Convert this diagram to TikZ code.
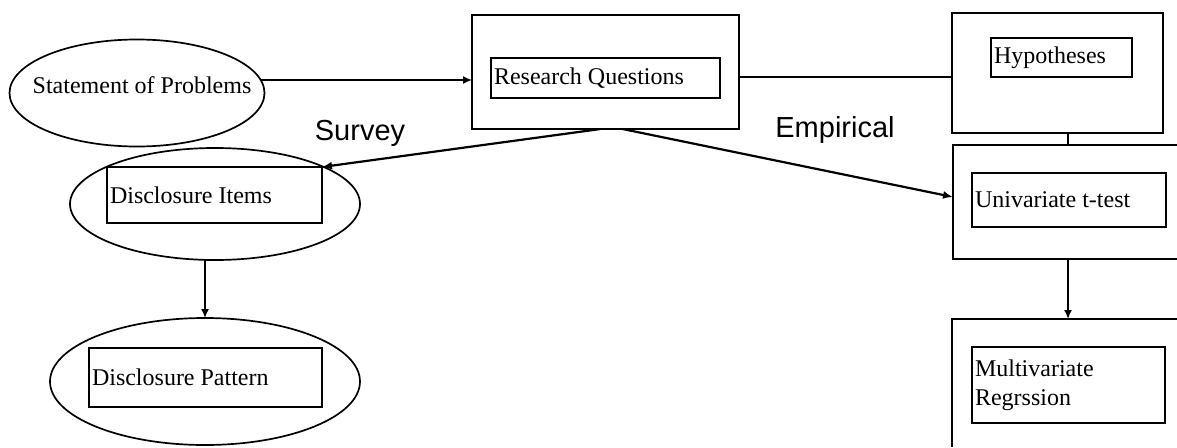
\documentclass[tikz,border=0pt]{standalone}
\usepackage{fontspec}
\setmainfont{Liberation Serif}
\newfontfamily\lsans{Liberation Sans}
\usetikzlibrary{shapes.geometric,arrows.meta}
\begin{document}
\begin{tikzpicture}[x=1pt,y=-1pt,
  every node/.style={inner sep=0pt,outer sep=0pt},
  txt/.style={font=\fontsize{24}{29}\selectfont},
  lbl/.style={font=\lsans\fontsize{29}{33}\selectfont},
  oval/.style={draw,ellipse,line width=1.7pt},
  obox/.style={draw,rectangle,line width=1.8pt},
  ibox/.style={draw,rectangle,line width=1.6pt,inner xsep=3pt,align=flush left,txt},
  conn/.style={line width=1.6pt},
  arr/.style={line width=1.6pt,-{Latex[length=9pt,width=8pt]}},
  darr/.style={line width=2.2pt,-{Latex[length=10pt,width=8pt]}}
]
\useasboundingbox (0,0) rectangle (1177,447);

% Statement of Problems
\node[oval,minimum width=255pt,minimum height=107pt] (sp) at (137,93) {};
\node[txt] (spt) at (142,85) {Statement of Problems};

% Research Questions
\node[obox,minimum width=267pt,minimum height=114pt] (rqo) at (605.5,72) {};
\node[ibox,text width=223pt,minimum height=40pt] (rqi) at (605.5,78) {Research Questions};

% Hypotheses
\node[obox,minimum width=211pt,minimum height=120pt] (hyo) at (1057.5,73) {};
\node[ibox,text width=135pt,minimum height=39pt] (hyi) at (1061.5,57.5) {Hypotheses};

% Univariate t-test (box runs past the right edge)
\node[minimum width=224pt,minimum height=114pt] (uvo) at (1065,202) {};
\draw[line width=1.8pt] (uvo.north east) -- (uvo.north west) -- (uvo.south west) -- (uvo.south east);
\node[ibox,text width=188pt,minimum height=54pt] (uvi) at (1069,200) {Univariate t-test};

% Multivariate Regression (box runs past the right and bottom edges)
\node[minimum width=225pt,minimum height=128pt] (mvo) at (1064.5,383) {};
\draw[line width=1.8pt] (mvo.north east) -- (mvo.north west) -- (mvo.south west);
\node[ibox,text width=187pt,minimum height=76pt] (mvi) at (1068.5,385) {Multivariate\\Regrssion};

% Disclosure Items
\node[oval,minimum width=290pt,minimum height=112pt] (die) at (215,204) {};
\node[ibox,text width=209pt,minimum height=56pt] (dii) at (214.5,195) {Disclosure Items};

% Disclosure Pattern
\node[oval,minimum width=310pt,minimum height=127pt] (dpe) at (205,381.5) {};
\node[ibox,text width=227pt,minimum height=59pt] (dpi) at (205.5,377.5) {Disclosure Pattern};

% Labels
\node[lbl,anchor=base] (survey) at (360,140) {Survey};
\node[lbl,anchor=base] (empirical) at (835,137) {Empirical};

% Connectors
\draw[arr] (sp.6.5) -- (sp.6.5 -| rqo.west);
\draw[conn] ([yshift=-5pt]rqo.east) -- ([yshift=-5pt]rqo.east -| hyo.west);
\draw[conn] ([xshift=10.5pt]hyo.south) -- ([xshift=10.5pt]hyo.south |- uvo.north);
\draw[arr] ([xshift=3pt]uvo.south) -- ([xshift=3pt]uvo.south |- mvo.north);
\draw[darr] ([xshift=-5pt]rqo.south) -- (dii.north east);
\draw[darr] ([xshift=17pt]rqo.south) -- ([yshift=5pt]uvo.west);
\draw[arr] (dpe.north |- die.south) -- (dpe.north);
\end{tikzpicture}
\end{document}
